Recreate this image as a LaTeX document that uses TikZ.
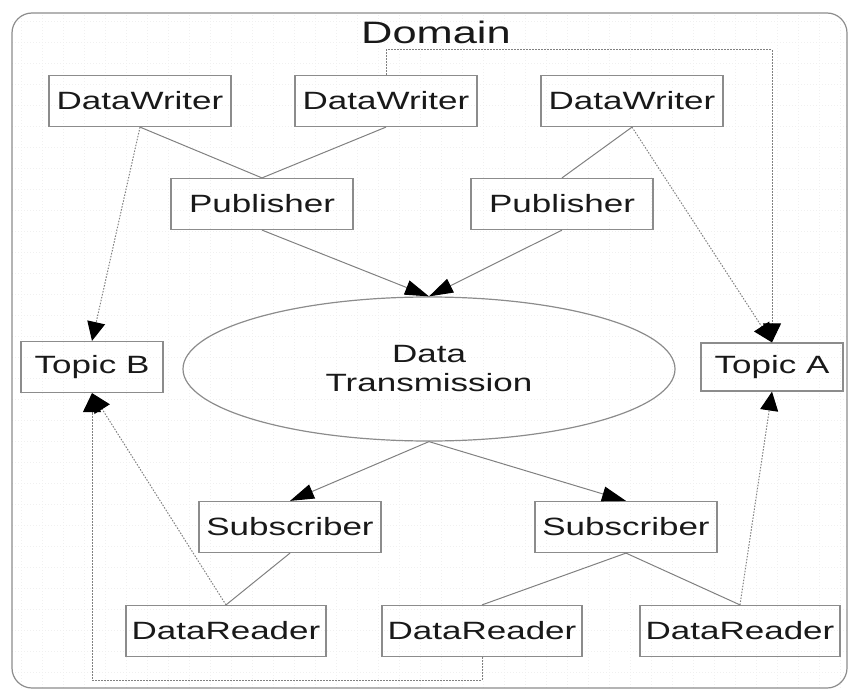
\documentclass[tikz,border=0pt]{standalone}
\usepackage{fontspec}
\newfontfamily\labelfont[FakeStretch=1.4]{Liberation Sans}
\usetikzlibrary{positioning,arrows.meta,shapes.geometric}
\definecolor{edgegray}{gray}{0.5}
\definecolor{boxgray}{gray}{0.55}
\definecolor{inkgray}{gray}{0.1}

\begin{document}
\begin{tikzpicture}[x=1pt,y=-1pt,
  box/.style={draw=boxgray,line width=1.2pt,minimum width=182pt,minimum height=51pt,inner sep=0pt,text=inkgray,font=\labelfont\fontsize{25}{29}\selectfont},
  link/.style={draw=edgegray,line width=1pt},
  flow/.style={link,-{Triangle[length=24pt,width=15pt,color=black]}},
  ref/.style={link,dash pattern=on 1.5pt off 1.5pt,-{Triangle[length=19pt,width=18pt,color=black]}}]
  \useasboundingbox (0,0) rectangle (848,690);
  \draw[gray!12,line width=0.5pt,dash pattern=on 1pt off 2pt] (12,13) grid[step=21pt] (847,688);
  \draw[boxgray,line width=1.2pt,rounded corners=20pt] (12,13) rectangle (847,688);
  \node[text=inkgray,font=\labelfont\fontsize{31}{36}\selectfont] (domain) at (436,32) {Domain};

  \node[box] (dwA) at (140,101) {DataWriter};
  \node[box] (dwB) at (386,101) {DataWriter};
  \node[box] (dwC) at (632,101) {DataWriter};
  \node[box] (pubA) at (262,204) {Publisher};
  \node[box] (pubB) at (562,204) {Publisher};
  \node[box,minimum width=142pt] (topicB) at (92,367) {Topic B};
  \node[box,minimum width=142pt,minimum height=48pt] (topicA) at (772,367) {Topic A};
  \node[box,ellipse,minimum width=492pt,minimum height=144pt,align=center] (trans) at (429,369) {Data\\Transmission};
  \node[box] (subA) at (290,527) {Subscriber};
  \node[box] (subB) at (626,527) {Subscriber};
  \node[box,minimum width=200pt] (rdA) at (226,631) {DataReader};
  \node[box,minimum width=200pt] (rdB) at (482,631) {DataReader};
  \node[box,minimum width=200pt] (rdC) at (740,631) {DataReader};
  \coordinate (topbend) at (772,50);
  \coordinate (lowbend) at (92,680);

  \draw[link] (dwA.south) -- (pubA.north);
  \draw[link] (dwB.south) -- (pubA.north);
  \draw[link] (dwC.south) -- (pubB.north);
  \draw[flow] (pubA.south) -- (trans.north);
  \draw[flow] (pubB.south) -- (trans.north);
  \draw[flow] (trans.south) -- (subA.north);
  \draw[flow] (trans.south) -- (subB.north);
  \draw[link] (subA.south) -- (rdA.north);
  \draw[link] (subB.south) -- (rdB.north);
  \draw[link] (subB.south) -- (rdC.north);

  \draw[ref] (dwA.south) -- (topicB.north);
  \draw[ref] (dwC.south) -- (topicA.north);
  \draw[ref] (dwB.north) |- (topbend) -- (topicA.north);
  \draw[ref] (rdA.north) -- (topicB.south);
  \draw[ref] (rdB.south) |- (lowbend) -- (topicB.south);
  \draw[ref] (rdC.north) -- (topicA.south);
\end{tikzpicture}
\end{document}
